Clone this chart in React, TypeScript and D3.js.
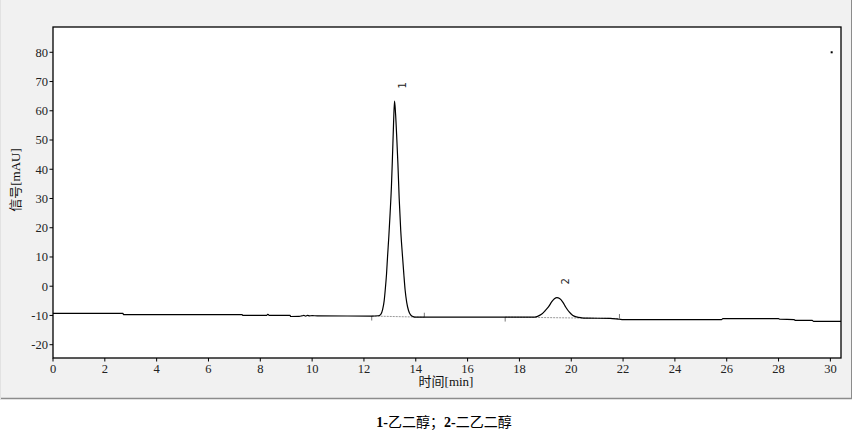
import React from "react";
import * as d3 from "d3";

// Chromatogram trace: [time (min), signal (mAU)]
const traceTime: number[] = [
  0, 2.7, 2.72, 7.3, 7.32, 8.25, 8.28, 8.31, 8.34, 9.15, 9.17, 9.5, 9.6, 9.68, 9.75, 9.82, 9.9, 10.0, 10.2, 12.3,
  12.55, 12.65, 12.72, 12.78, 12.82, 12.87, 12.91, 12.96, 13.01, 13.06, 13.1, 13.14, 13.18, 13.22, 13.27, 13.31,
  13.36, 13.42, 13.49, 13.54, 13.59, 13.65, 13.72, 13.8, 13.9, 14.0, 14.33, 17.45, 18.5, 18.7, 18.85, 19.0, 19.12,
  19.25, 19.35, 19.45, 19.55, 19.68, 19.79, 19.92, 20.05, 20.2, 20.4, 20.6, 21.5, 21.86, 22.0, 25.8, 25.85, 28.0,
  28.05, 28.6, 28.65, 29.3, 29.35, 30.41,
];
const traceSignal: number[] = [
  -9.3, -9.3, -9.7, -9.7, -10.0, -10.0, -9.6, -9.7, -10.0, -10.0, -10.35, -10.3, -10.15, -10.0, -10.2, -10.0,
  -10.15, -10.05, -10.15, -10.2,
  -10.1, -9.6, -8.0, -5.0, -1.4, 4.0, 10.0, 17.0, 25.0, 34.0, 44.0, 55.0, 63.3, 59.0, 50.0, 42.0,
  30.0, 19.0, 10.0, 4.0, -1.4, -5.5, -8.3, -9.8, -10.4, -10.6, -10.6, -10.6, -10.6, -10.3, -9.6, -8.3, -7.1,
  -5.3, -4.3, -3.9, -4.2, -5.5, -7.2, -8.8, -9.9, -10.5, -10.8, -10.9, -11.0, -11.3, -11.4, -11.4, -11.1, -11.1,
  -11.3, -11.4, -11.7, -11.7, -12.0, -12.0,
];

// Integration baselines: start/end times and signals
const baseStartTime: number[] = [12.3, 17.45];
const baseStartSignal: number[] = [-10.2, -10.55];
const baseEndTime: number[] = [14.33, 21.86];
const baseEndSignal: number[] = [-10.6, -11.05];

// Peak labels
const peakNames: string[] = ["1", "2"];
const peakLabelTime: number[] = [13.49, 19.77];
const peakLabelSignal: number[] = [68.7, 1.7];

// Ticks
const xTicks: number[] = [0, 2, 4, 6, 8, 10, 12, 14, 16, 18, 20, 22, 24, 26, 28, 30];
const yTicks: number[] = [-20, -10, 0, 10, 20, 30, 40, 50, 60, 70, 80];

const xDomain: [number, number] = [0, 30.41];
const yDomain: [number, number] = [-24.55, 88.65];

const strayDot: [number, number] = [30.05, 80];

const serif = "'Liberation Serif', 'DejaVu Serif', serif";
const cjk = "'Noto Sans CJK SC', sans-serif";

export default function App() {
  const W = 855;
  const H = 442;
  const left = 53;
  const right = 841;
  const top = 27;
  const bottom = 358;

  const x = d3.scaleLinear().domain(xDomain).range([left, right]);
  const y = d3.scaleLinear().domain(yDomain).range([bottom, top]);

  const pts: [number, number][] = traceTime.map((t, i) => [t, traceSignal[i]]);
  const line = d3
    .line<[number, number]>()
    .x((d) => x(d[0]))
    .y((d) => y(d[1]))
    .curve(d3.curveMonotoneX);

  return (
    <svg
      width={W}
      height={H}
      style={{ position: "absolute", left: 0, top: 0, background: "#ffffff" }}
    >
      {/* panel */}
      <rect x={0} y={0} width={852} height={399} fill="#f1f1f1" />
      <line x1={851.5} y1={0} x2={851.5} y2={399} stroke="#8c8c8c" strokeWidth={1} />
      <line x1={0} y1={398.5} x2={852} y2={398.5} stroke="#8c8c8c" strokeWidth={1.5} />
      <line x1={0.5} y1={0} x2={0.5} y2={399} stroke="#e2e2e2" strokeWidth={1} />

      {/* plot area */}
      <rect x={left} y={top} width={right - left} height={bottom - top} fill="#ffffff" stroke="#000" strokeWidth={1.3} />

      {/* y ticks */}
      {yTicks.map((v) => (
        <g key={"y" + v}>
          <line x1={left - 3.5} x2={left} y1={y(v)} y2={y(v)} stroke="#000" strokeWidth={1} />
          <text
            x={left - 5}
            y={y(v)}
            dy="0.35em"
            textAnchor="end"
            fontFamily={serif}
            fontSize={12.5}
            fill="#222"
          >
            {v}
          </text>
        </g>
      ))}

      {/* x ticks */}
      {xTicks.map((v) => (
        <g key={"x" + v}>
          <line x1={x(v)} x2={x(v)} y1={bottom} y2={bottom + 3.5} stroke="#000" strokeWidth={1} />
          <text
            x={x(v)}
            y={bottom + 14.5}
            textAnchor="middle"
            fontFamily={serif}
            fontSize={12.5}
            fill="#222"
          >
            {v}
          </text>
        </g>
      ))}

      {/* axis titles */}
      <text x={446} y={386} textAnchor="middle" fontSize={13} fill="#111">
        <tspan fontFamily={cjk}>时间</tspan>
        <tspan fontFamily={serif}>[min]</tspan>
      </text>
      <text
        transform={`translate(20,180) rotate(-90)`}
        textAnchor="middle"
        fontSize={13}
        fill="#111"
      >
        <tspan fontFamily={cjk}>信号</tspan>
        <tspan fontFamily={serif}>[mAU]</tspan>
      </text>

      {/* integration baselines */}
      {baseStartTime.map((t, i) => (
        <g key={"b" + i}>
          <line
            x1={x(t)}
            y1={y(baseStartSignal[i])}
            x2={x(baseEndTime[i])}
            y2={y(baseEndSignal[i])}
            stroke="#999"
            strokeWidth={1}
            strokeDasharray="2,1"
          />
          <line
            x1={x(t)}
            x2={x(t)}
            y1={y(baseStartSignal[i])}
            y2={y(baseStartSignal[i]) + 4.5}
            stroke="#777"
            strokeWidth={1}
          />
          <line
            x1={x(baseEndTime[i])}
            x2={x(baseEndTime[i])}
            y1={y(baseEndSignal[i])}
            y2={y(baseEndSignal[i]) - 4.5}
            stroke="#777"
            strokeWidth={1}
          />
        </g>
      ))}

      {/* trace */}
      <path d={line(pts) || ""} fill="none" stroke="#000" strokeWidth={1.2} />

      {/* stray dot */}
      <rect x={x(strayDot[0]) - 1} y={y(strayDot[1]) - 1} width={2} height={2} fill="#000" />

      {/* peak labels */}
      {peakNames.map((n, i) => (
        <text
          key={"p" + i}
          transform={`translate(${x(peakLabelTime[i])},${y(peakLabelSignal[i])}) rotate(-90)`}
          textAnchor="middle"
          dy="0.35em"
          fontFamily="'DejaVu Sans', sans-serif"
          fontSize={10}
          fill="#222"
        >
          {n}
        </text>
      ))}

      {/* caption */}
      <text x={444} y={427} textAnchor="middle" fontSize={14} fill="#000">
        <tspan fontFamily={serif} fontWeight="bold">1-</tspan>
        <tspan fontFamily={cjk}>乙二醇；</tspan>
        <tspan fontFamily={serif} fontWeight="bold">2-</tspan>
        <tspan fontFamily={cjk}>二乙二醇</tspan>
      </text>
    </svg>
  );
}
